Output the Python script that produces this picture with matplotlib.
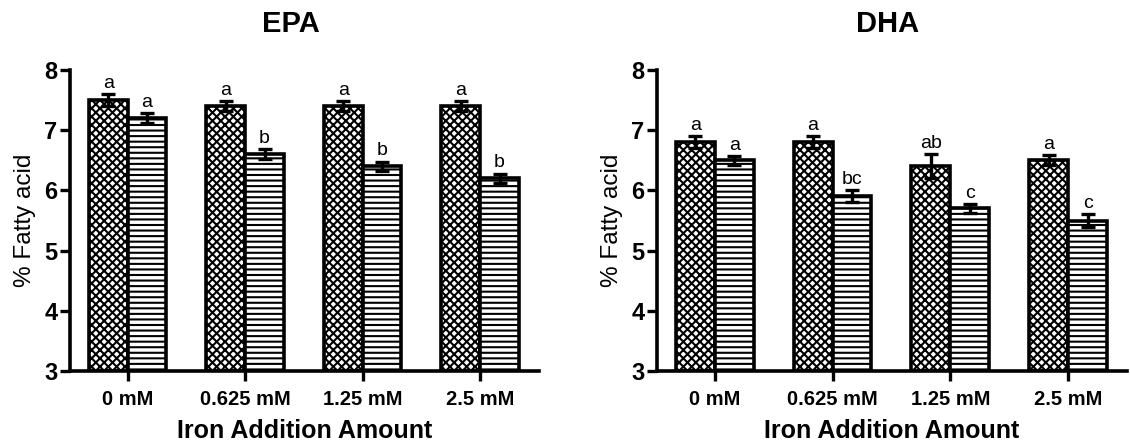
import matplotlib
matplotlib.use("Agg")
import matplotlib.pyplot as plt
import numpy as np

categories = ["0 mM", "0.625 mM", "1.25 mM", "2.5 mM"]
epa_a = [7.5, 7.4, 7.4, 7.4]
epa_a_err = [0.1, 0.08, 0.08, 0.08]
epa_b = [7.2, 6.6, 6.4, 6.2]
epa_b_err = [0.08, 0.08, 0.08, 0.08]
epa_a_letters = ["a", "a", "a", "a"]
epa_b_letters = ["a", "b", "b", "b"]

dha_a = [6.8, 6.8, 6.4, 6.5]
dha_a_err = [0.1, 0.1, 0.2, 0.08]
dha_b = [6.5, 5.9, 5.7, 5.5]
dha_b_err = [0.07, 0.1, 0.08, 0.1]
dha_a_letters = ["a", "a", "ab", "a"]
dha_b_letters = ["a", "bc", "c", "c"]

yticks = [3, 4, 5, 6, 7, 8]

plt.rcParams['font.family'] = ['Liberation Sans', 'DejaVu Sans']
plt.rcParams['hatch.linewidth'] = 1.5

fig = plt.figure(figsize=(11.3, 4.46), dpi=100)
ax1 = fig.add_axes([70/1130, 1-371/446, 469/1130, 301/446])
ax2 = fig.add_axes([657/1130, 1-371/446, 470/1130, 301/446])

w = 0.33

def panel(ax, title, va, vae, vb, vbe, la, lb, title_x):
    x = np.arange(len(categories))
    ax.bar(x - w/2, [v - 3 for v in va], w, bottom=3, color='white', edgecolor='black',
           linewidth=2.6, hatch='xxxx', zorder=2)
    ax.bar(x + w/2, [v - 3 for v in vb], w, bottom=3, color='white', edgecolor='black',
           linewidth=2.6, hatch='---', zorder=2)
    ax.errorbar(x - w/2, va, yerr=vae, fmt='none', ecolor='black', elinewidth=2.4,
                capsize=5, capthick=2.4, zorder=3)
    ax.errorbar(x + w/2, vb, yerr=vbe, fmt='none', ecolor='black', elinewidth=2.4,
                capsize=5, capthick=2.4, zorder=3)
    for i in range(len(categories)):
        ax.annotate(la[i], (x[i] - w/2, va[i] + vae[i]), xytext=(0, 1.5),
                    textcoords='offset points', ha='center', va='bottom', fontsize=14)
        ax.annotate(lb[i], (x[i] + w/2, vb[i] + vbe[i]), xytext=(0, 1.5),
                    textcoords='offset points', ha='center', va='bottom', fontsize=14)
    ax.set_xlim(-0.49, 3.5)
    ax.set_ylim(3, 8)
    ax.set_yticks(yticks)
    ax.set_yticklabels([str(t) for t in yticks], fontsize=17, fontweight='bold')
    ax.set_xticks(x)
    ax.set_xticklabels(categories, fontsize=14.5, fontweight='bold')
    for s in ['top', 'right']:
        ax.spines[s].set_visible(False)
    for s in ['left', 'bottom']:
        ax.spines[s].set_linewidth(2.6)
    ax.tick_params(axis='both', direction='out', length=7, width=2.4, pad=2)
    ax.tick_params(axis='x', pad=7)
    ax.set_ylabel("% Fatty acid", fontsize=17.5, labelpad=6)
    ax.set_xlabel("Iron Addition Amount", fontsize=18, fontweight='bold', labelpad=7)
    ax.set_title(title, fontsize=21, fontweight='bold', pad=27, x=title_x)

panel(ax1, "EPA", epa_a, epa_a_err, epa_b, epa_b_err, epa_a_letters, epa_b_letters, 0.47)
panel(ax2, "DHA", dha_a, dha_a_err, dha_b, dha_b_err, dha_a_letters, dha_b_letters, 0.49)

fig.savefig("out.png", dpi=100)
